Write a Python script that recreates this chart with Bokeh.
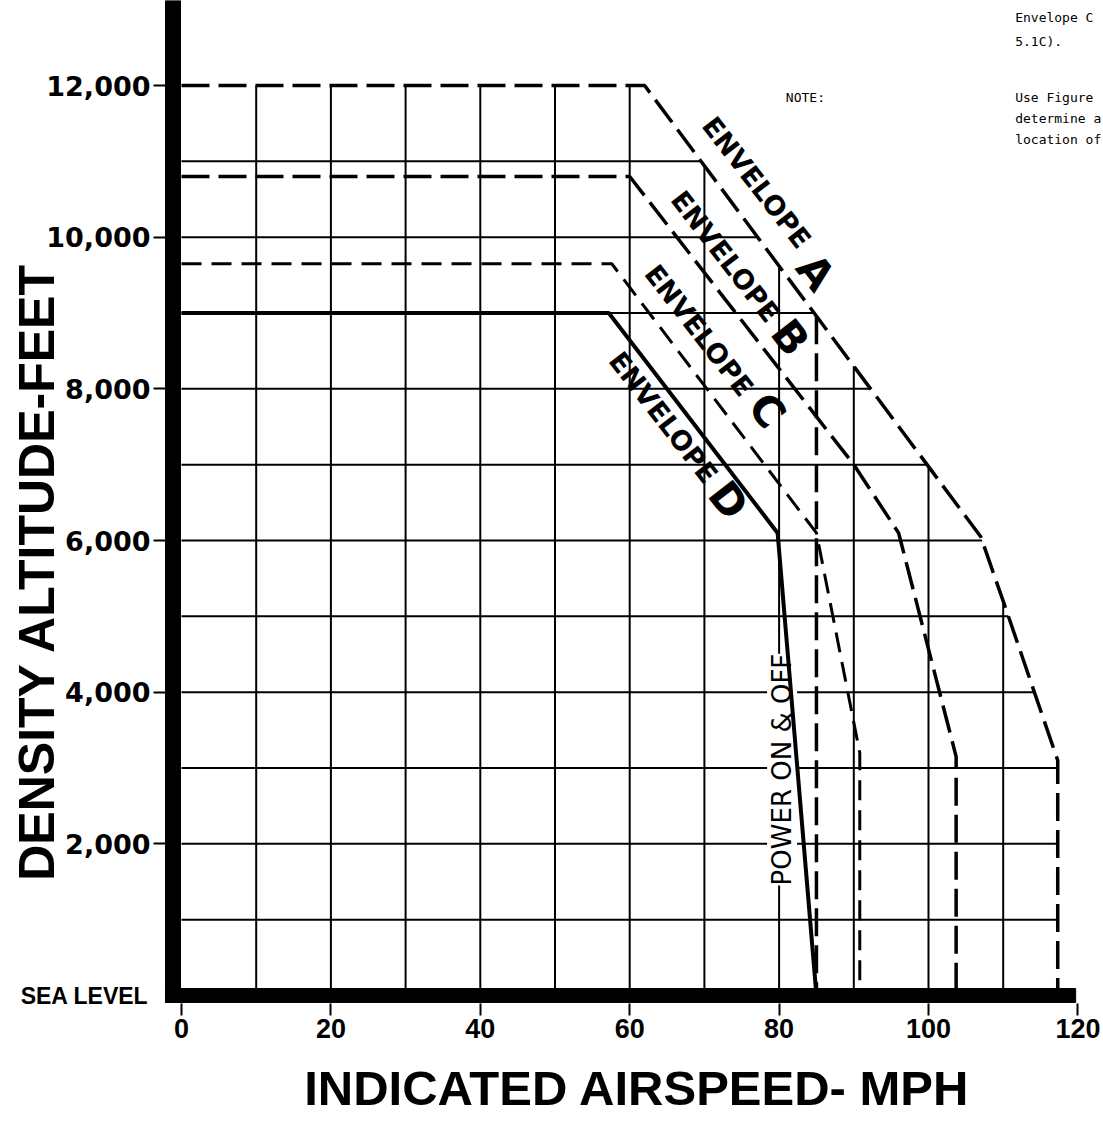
import numpy as np
from bokeh.plotting import figure
from bokeh.models import Range1d, FixedTicker
from bokeh.core.properties import value
from bokeh.embed import file_html
from bokeh.resources import INLINE

# ---------------- data ----------------
x_ticks = [0, 20, 40, 60, 80, 100, 120]
y_ticks = [2000, 4000, 6000, 8000, 10000, 12000]
y_tick_labels = ["2,000", "4,000", "6,000", "8,000", "10,000", "12,000"]
grid_x = [10, 20, 30, 40, 50, 60, 70, 80, 90, 100, 110]
grid_y = [1000, 2000, 3000, 4000, 5000, 6000, 7000, 8000, 9000, 10000, 11000]

# envelopes: indicated airspeed (mph) vs density altitude (ft)
env_a_x = [0, 62, 107, 110, 117.3, 117.3]
env_a_y = [12000, 12000, 6050, 5200, 3100, 0]
env_b_x = [0, 60, 90, 96, 103.7, 103.7]
env_b_y = [10800, 10800, 7000, 6100, 3150, 0]
env_c_x = [0, 57.6, 85, 90.8, 90.8]
env_c_y = [9650, 9650, 6100, 3200, 0]
env_d_x = [0, 57.2, 79.8, 85]
env_d_y = [9000, 9000, 6100, 0]
limit_85_speed = 85

# label texts / anchors (data units)
env_names = ["A", "B", "C", "D"]
env_word_x = [77.0, 72.8, 69.3, 64.5]
env_word_y = [10721, 9745, 8770, 7622]
env_letter_x = [84.9, 81.5, 78.4, 73.2]
env_letter_y = [9535, 8677, 7715, 6528]

note_text = ["Envelope C", "5.1C).", "NOTE:", "Use Figure", "determine a", "location of"]
note_x = [111.6, 111.6, 80.9, 111.6, 111.6, 111.6]
note_y = [12897, 12581, 11842, 11842, 11565, 11288]

# ---------------- figure ----------------
X_LO, X_HI = -24.230, 123.427
Y_LO, Y_HI = -1727.5, 13121.5
AXIS_X = -2.142     # mph position of the heavy left axis edge
AXIS_Y = -105.5     # ft position of the heavy bottom axis edge

p = figure(frame_width=1103, frame_height=1126, min_border=0,
           x_range=Range1d(X_LO, X_HI), y_range=Range1d(Y_LO, Y_HI),
           output_backend="svg", toolbar_location=None)
p.outline_line_color = None
p.xgrid.visible = False
p.ygrid.visible = False
p.background_fill_color = "white"
p.border_fill_color = "white"

# axes
xa = p.xaxis[0]
xa.fixed_location = AXIS_Y
xa.ticker = FixedTicker(ticks=x_ticks)
xa.axis_line_color = None
xa.major_tick_out = 12
xa.major_tick_in = 0
xa.major_tick_line_width = 2
xa.major_tick_line_color = "black"
xa.minor_tick_line_color = None
xa.major_label_standoff = 3
xa.major_label_text_font = "Liberation Sans"
xa.major_label_text_font_style = "bold"
xa.major_label_text_font_size = "27px"
xa.major_label_text_color = "black"

ya = p.yaxis[0]
ya.fixed_location = AXIS_X
ya.ticker = FixedTicker(ticks=y_ticks)
ya.major_label_overrides = {t: l for t, l in zip(y_ticks, y_tick_labels)}
ya.axis_line_color = None
ya.major_tick_out = 12
ya.major_tick_in = 0
ya.major_tick_line_width = 2
ya.major_tick_line_color = "black"
ya.minor_tick_line_color = None
ya.major_label_standoff = 3
ya.major_label_text_font = "DejaVu Sans"
ya.major_label_text_font_style = "bold"
ya.major_label_text_font_size = "27px"
ya.major_label_text_color = "black"

# grid bounded by envelope A
a_x_mono = np.array(env_a_x[:-1], dtype=float)
a_y_mono = np.array(env_a_y[:-1], dtype=float)
v_tops = np.interp(grid_x, a_x_mono, a_y_mono)
h_rights = np.interp(grid_y, a_y_mono[1:][::-1], a_x_mono[1:][::-1])
p.segment(x0=grid_x, y0=[0] * len(grid_x), x1=grid_x, y1=v_tops,
          line_color="black", line_width=2)
p.segment(x0=[0] * len(grid_y), y0=grid_y, x1=h_rights, y1=grid_y,
          line_color="black", line_width=2)

# label on the power-on/off line (white box hides the grid behind it)
p.text(x=[80.4], y=[2980], text=["POWER ON & OFF"], angle=np.pi / 2,
       text_font=value("DejaVu Sans"), text_font_size="26px",
       text_align="center", text_baseline="middle", text_color="black",
       background_fill_color="white")

# envelopes
p.line(env_a_x, env_a_y, line_color="black", line_width=3.5, line_dash="28 9")
p.line(env_b_x, env_b_y, line_color="black", line_width=3.5, line_dash="28 9")
p.line(env_c_x, env_c_y, line_color="black", line_width=3, line_dash="20 10")
p.line(env_d_x, env_d_y, line_color="black", line_width=4)
top85 = float(np.interp(limit_85_speed, a_x_mono, a_y_mono))
p.line([limit_85_speed, limit_85_speed], [top85, 0], line_color="black",
       line_width=3.5, line_dash="28 9")

# heavy axis bars
p.quad(left=[AXIS_X], right=[-0.134], bottom=[-92], top=[Y_HI], color="black")
p.quad(left=[AXIS_X], right=[119.7], bottom=[-92], top=[92], color="black")

# envelope labels
ang = -0.91
p.text(x=env_word_x, y=env_word_y, text=["ENVELOPE"] * 4, angle=ang,
       text_font=value("DejaVu Sans"), text_font_style="bold",
       text_font_size="27px", text_align="center", text_baseline="middle",
       text_color="black")
p.text(x=env_letter_x, y=env_letter_y, text=env_names, angle=ang,
       text_font=value("DejaVu Sans"), text_font_style="bold",
       text_font_size="42px", text_align="center", text_baseline="middle",
       text_color="black")

# note text (top right)
p.text(x=note_x, y=note_y, text=note_text,
       text_font=value("DejaVu Sans Mono"), text_font_size="13px",
       text_align="left", text_baseline="middle", text_color="black")

# axis titles and sea level label
p.text(x=[-19.4], y=[5591], text=["DENSITY ALTITUDE-FEET"], angle=np.pi / 2,
       text_font=value("Liberation Sans"), text_font_style="bold",
       text_font_size="50px", text_align="center", text_baseline="middle",
       text_color="black")
p.text(x=[61.0], y=[-1226], text=["INDICATED AIRSPEED- MPH"],
       text_font=value("Liberation Sans"), text_font_style="bold",
       text_font_size="49px", text_align="center", text_baseline="middle",
       text_color="black")
p.text(x=[-4.42], y=[0], text=["SEA LEVEL"],
       text_font=value("Liberation Sans"), text_font_style="bold",
       text_font_size="23px", text_align="right", text_baseline="middle",
       text_color="black")

open("out.html", "w").write(file_html(p, INLINE))
